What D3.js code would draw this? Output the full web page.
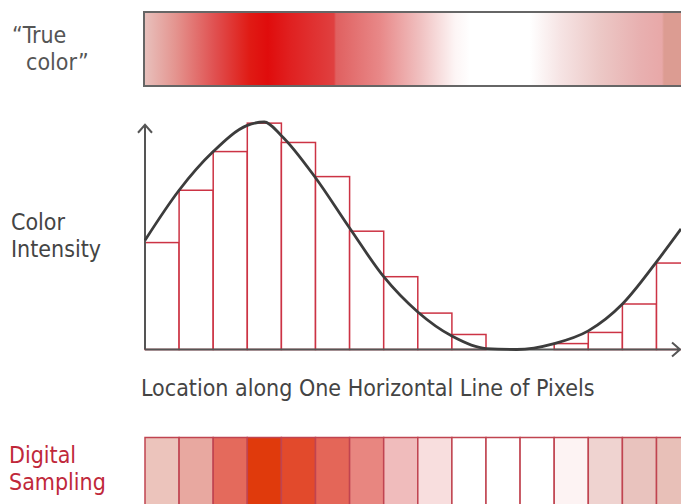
<!DOCTYPE html>
<html>
<head>
<meta charset="utf-8">
<script src="https://cdn.jsdelivr.net/npm/d3@7"></script>
<style>
   body { margin: 0; background: #fff; }
   svg { display: block; }
   text { font-family: "DejaVu Sans Condensed", "DejaVu Sans", sans-serif; font-stretch: condensed; }
</style>
</head>
<body>
<script>
// Paramètres de la visualisation
const width = 681;
const height = 504;

// intensité échantillonnée (un pixel par case)
const sampleValues = [0.47, 0.70, 0.87, 0.995, 0.91, 0.76, 0.52, 0.32, 0.16, 0.066, 0, 0, 0.026, 0.075, 0.20, 0.38];

// couleur obtenue pour chaque pixel
const sampleColors = ['#ecc4bc', '#e8a8a0', '#e46a5c', '#e03a0c', '#e24a2c', '#e46658', '#e88680', '#f0bcbc',
   '#f8dede', '#ffffff', '#ffffff', '#ffffff', '#fdf3f3', '#efd3d0', '#e9c3be', '#e8c0b8'];

// courbe continue ("vraie" intensité)
const curveX = [0, 1, 2, 3, 3.5, 4, 5, 6, 7, 8, 9, 10, 10.9, 12, 13, 14, 15, 15.72];
const curveY = [0.48, 0.70, 0.87, 0.985, 1.0, 0.94, 0.755, 0.534, 0.32, 0.165, 0.059, 0.004, 0, 0.026, 0.082, 0.20, 0.385, 0.53];

// dégradé de la "vraie couleur"
const gradientPos = [0, 0.88, 2.05, 3.08, 3.6, 4.25, 5.54, 5.6, 6.89, 8.06, 9.09, 9.53, 11.29, 12.17, 13.34, 14.52, 15.16, 15.22, 15.72];
const gradientColors = ['#e8c0bc', '#e49590', '#e05050', '#e01a14', '#e00c0c', '#e02020', '#e04040', '#e06060', '#e88888',
   '#f0c0c0', '#fdf5f5', '#ffffff', '#ffffff', '#f6e4e4', '#ecc8c6', '#e8b0b0', '#e8a8a8', '#dc9c92', '#dc9c92'];

const labels = {
   trueColor: ['\u201CTrue', 'color\u201D'],
   intensity: ['Color', 'Intensity'],
   sampling: ['Digital', 'Sampling'],
   xAxis: 'Location along One Horizontal Line of Pixels'
};

let scaleX, scaleY;

function setup() {
   const svg = d3.select('body')
   .append('svg')
   .attr('width', width)
   .attr('height', height);

   // échelles
   scaleX = d3.scaleLinear()
   .domain([0, 16])
   .range([145, 145 + 16 * 34.1]);

   scaleY = d3.scaleLinear()
   .domain([0, 1])
   .range([349.5, 122]);

   drawTrueColor(svg);
   drawChart(svg);
   drawSampling(svg);
   drawLabels(svg);
}

function drawTrueColor(svg) {
   const grad = svg.append('defs')
   .append('linearGradient')
   .attr('id', 'trueGrad')
   .attr('gradientUnits', 'userSpaceOnUse')
   .attr('x1', scaleX(0)).attr('x2', scaleX(d3.max(gradientPos)))
   .attr('y1', 0).attr('y2', 0);

   const span = d3.max(gradientPos);
   grad.selectAll('stop')
   .data(gradientPos)
   .join('stop')
      .attr('offset', d => d / span)
      .attr('stop-color', (d, i) => gradientColors[i]);

   svg.append('rect')
   .attr('x', scaleX(0) - 1)
   .attr('y', 12)
   .attr('width', width - scaleX(0) + 10)
   .attr('height', 74)
   .attr('fill', 'url(#trueGrad)')
   .attr('stroke', '#666')
   .attr('stroke-width', 2);
}

function drawChart(svg) {
   // barres
   svg.append('g')
   .selectAll('rect')
   .data(sampleValues)
   .join('rect')
      .attr('x', (d, i) => scaleX(i))
      .attr('y', d => scaleY(d))
      .attr('width', scaleX(1) - scaleX(0))
      .attr('height', d => scaleY(0) - scaleY(d))
      .attr('fill', '#fff')
      .attr('stroke', '#cc3344')
      .attr('stroke-width', 1.5);

   // axes
   const axisColor = '#555';
   const x0 = scaleX(0), y0 = scaleY(0);
   const yTop = scaleY(0.988), xEnd = scaleX(15.69);

   svg.append('path')
   .attr('d', `M${x0},${y0}V${yTop}M${x0 - 7},${yTop + 8}L${x0},${yTop}L${x0 + 7},${yTop + 8}`)
   .attr('fill', 'none')
   .attr('stroke', axisColor)
   .attr('stroke-width', 2);

   svg.append('path')
   .attr('d', `M${x0},${y0}H${xEnd}M${xEnd - 8},${y0 - 7}L${xEnd},${y0}L${xEnd - 8},${y0 + 7}`)
   .attr('fill', 'none')
   .attr('stroke', axisColor)
   .attr('stroke-width', 2);

   // courbe
   const line = d3.line()
   .x(d => scaleX(d[0]))
   .y(d => scaleY(d[1]))
   .curve(d3.curveMonotoneX);

   svg.append('path')
   .datum(d3.zip(curveX, curveY))
   .attr('d', line)
   .attr('fill', 'none')
   .attr('stroke', '#3c3c3c')
   .attr('stroke-width', 2.8);
}

function drawSampling(svg) {
   svg.append('g')
   .selectAll('rect')
   .data(sampleColors)
   .join('rect')
      .attr('x', (d, i) => scaleX(i))
      .attr('y', 437.5)
      .attr('width', scaleX(1) - scaleX(0))
      .attr('height', 80)
      .attr('fill', d => d)
      .attr('stroke', '#c04450')
      .attr('stroke-width', 1.5);
}

function drawLabels(svg) {
   const size = '23px';

   const t1 = svg.append('text')
   .attr('font-size', size)
   .attr('fill', '#555');
   t1.append('tspan').attr('x', 12).attr('y', 43).text(labels.trueColor[0]);
   t1.append('tspan').attr('x', 26).attr('y', 70).text(labels.trueColor[1]);

   const t2 = svg.append('text')
   .attr('font-size', size)
   .attr('fill', '#444');
   t2.append('tspan').attr('x', 11).attr('y', 230).text(labels.intensity[0]);
   t2.append('tspan').attr('x', 11).attr('y', 257).text(labels.intensity[1]);

   svg.append('text')
   .attr('font-size', size)
   .attr('fill', '#444')
   .attr('x', 141)
   .attr('y', 396)
   .text(labels.xAxis);

   const t3 = svg.append('text')
   .attr('font-size', size)
   .attr('fill', '#c0283a');
   t3.append('tspan').attr('x', 9).attr('y', 463).text(labels.sampling[0]);
   t3.append('tspan').attr('x', 9).attr('y', 490).text(labels.sampling[1]);
}

setup();
</script>
</body>
</html>
